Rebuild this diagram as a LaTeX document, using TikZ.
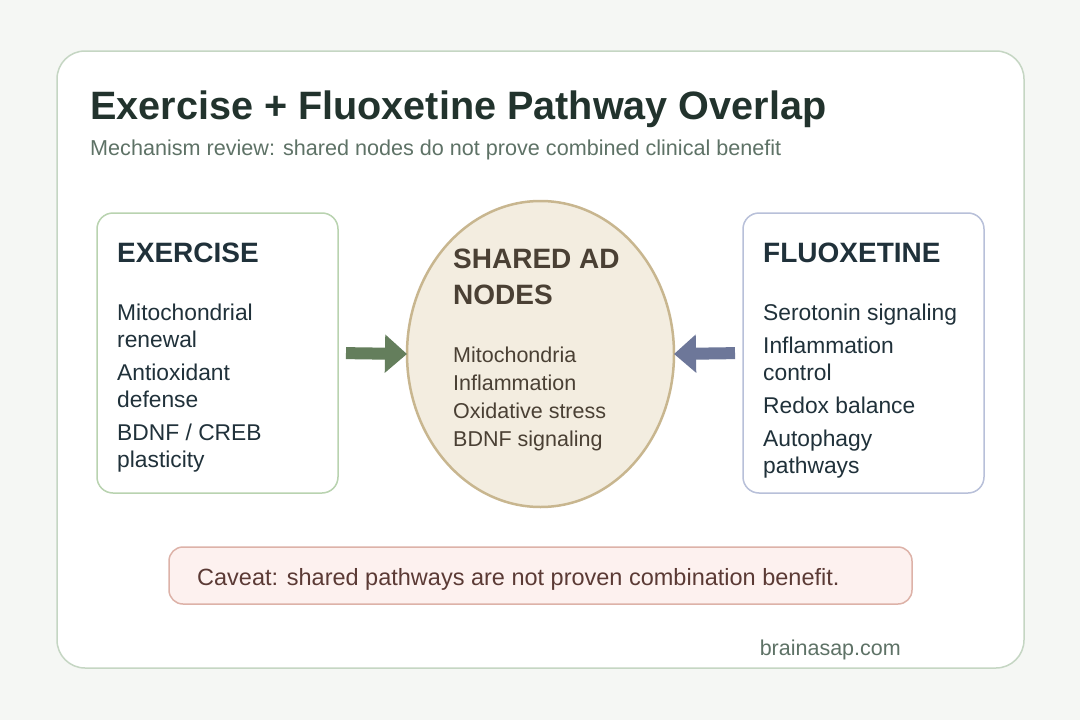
\documentclass[tikz,border=0pt]{standalone}
\usepackage{fontspec}
\setmainfont{Liberation Sans}
\usepackage{tikz}
\usetikzlibrary{positioning,arrows.meta,calc,shapes}

\definecolor{pagebg}{HTML}{F5F7F4}
\definecolor{cardline}{HTML}{C5D6C3}
\definecolor{titleink}{HTML}{22332D}
\definecolor{subink}{HTML}{5E7266}
\definecolor{boxink}{HTML}{20313A}
\definecolor{exline}{HTML}{B9D3B0}
\definecolor{fxline}{HTML}{B8C0D9}
\definecolor{sharedfill}{HTML}{F3EDE0}
\definecolor{sharedline}{HTML}{C8B68F}
\definecolor{sharedink}{HTML}{4A4034}
\definecolor{exgreen}{HTML}{647E5C}
\definecolor{fxblue}{HTML}{6D7799}
\definecolor{cavfill}{HTML}{FDF1EF}
\definecolor{cavline}{HTML}{DDB2A8}
\definecolor{cavink}{HTML}{5B3A35}

\begin{document}
\begin{tikzpicture}[
    x=1pt, y=-1pt,
    card/.style={draw=cardline, line width=1.5pt, fill=white, rounded corners=28pt,
        minimum width=967pt, minimum height=617pt, inner sep=0pt},
    sidebox/.style={draw, line width=1.5pt, fill=white, rounded corners=16pt,
        minimum width=241pt, minimum height=280pt, inner sep=0pt, outer sep=0pt},
    boxhead/.style={anchor=base west, inner sep=0pt, text=boxink,
        font=\fontsize{28}{32}\selectfont\bfseries},
    boxlist/.style={anchor=north west, inner sep=0pt, align=left, text=boxink,
        font=\fontsize{22.8}{27}\selectfont},
    blockarrow/.style={line width=12pt, -{Triangle[length=22pt, width=37pt]}, shorten <=8pt}
]
\useasboundingbox[fill=pagebg] (0,0) rectangle (1080,720);

\node[card] (card) at (540.5,359.5) {};
\node[anchor=base west, inner sep=0pt, text=titleink, font=\fontsize{39.6}{48}\selectfont\bfseries]
    (title) at (90,119) {Exercise + Fluoxetine Pathway Overlap};
\node[anchor=base west, inner sep=0pt, text=subink, font=\fontsize{21.6}{26}\selectfont]
    (subtitle) at (90,155) {Mechanism review: shared nodes do not prove combined clinical benefit};

% the three pathway blocks
\node[sidebox, draw=exline] (exbox) at (217.5,353) {};
\node[ellipse, draw=sharedline, line width=2.5pt, fill=sharedfill, inner sep=0pt, outer sep=0pt,
    minimum width=267pt, minimum height=306pt, right=69pt of exbox, yshift=-1pt] (shared) {};
\node[sidebox, draw=fxline, right=69pt of shared, yshift=1pt] (fxbox) {};

\node[boxhead] (exhead) at ($(exbox.north west)+(20,49)$) {EXERCISE};
\node[boxlist] (exlist) at ($(exhead.base west)+(0,42)$)
    {Mitochondrial\\renewal\\[6pt]Antioxidant\\defense\\[6pt]BDNF / CREB\\plasticity};

\node[boxhead, text=sharedink] (sharedhead) at (453,268) {SHARED AD};
\node[boxhead, text=sharedink] (sharedhead2) at (453,304) {NODES};
\node[boxlist, text=sharedink, font=\fontsize{21.5}{28}\selectfont] (sharedlist)
    at ($(sharedhead2.base west)+(0,43)$)
    {Mitochondria\\Inflammation\\Oxidative stress\\BDNF signaling};

\node[boxhead] (fxhead) at ($(fxbox.north west)+(20,49)$) {FLUOXETINE};
\node[boxlist] (fxlist) at ($(fxhead.base west)+(0,42)$)
    {Serotonin signaling\\[6pt]Inflammation\\control\\[6pt]Redox balance\\[6pt]Autophagy\\pathways};

\draw[blockarrow, exgreen] (exbox.east) -- (shared.west);
\draw[blockarrow, fxblue] (fxbox.west) -- (shared.east);

% caveat and footer
\node[draw=cavline, line width=1.5pt, fill=cavfill, rounded corners=14pt,
    minimum width=743pt, minimum height=57pt, inner sep=0pt] (caveat) at (540.5,575.5) {};
\node[anchor=base west, inner sep=0pt, text=cavink, font=\fontsize{23.5}{28}\selectfont]
    (cavtext) at (197,585) {Caveat: shared pathways are not proven combination benefit.};
\node[anchor=base east, inner sep=0pt, text=subink, font=\fontsize{21.5}{26}\selectfont]
    (site) at (901,655) {brainasap.com};
\end{tikzpicture}
\end{document}
